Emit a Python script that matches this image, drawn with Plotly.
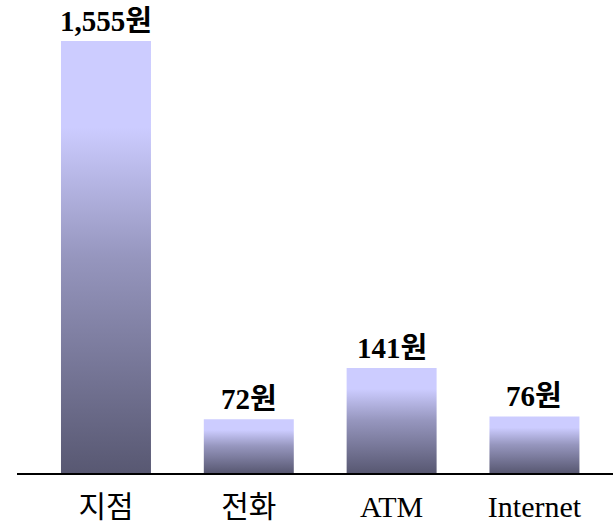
import plotly.graph_objects as go

categories = ["지점", "전화", "ATM", "Internet"]
values = [1555, 72, 141, 76]
unit = "원"

Y_MAX = 580          # axis cap: the 1,555 bar runs past the top of the plot
BAR_W = 0.63
LIGHT = "rgb(204,204,255)"
MID = "rgb(150,150,190)"
DARK = "rgb(88,88,114)"
FONT = "Liberation Serif, Times New Roman, Noto Sans CJK KR, serif"

fig = go.Figure()
for i, v in enumerate(values):
    top = min(v, Y_MAX)
    x0, x1 = i - BAR_W / 2, i + BAR_W / 2
    fig.add_trace(go.Scatter(
        x=[x0, x1, x1, x0, x0],
        y=[0, 0, v, v, 0],
        mode="lines",
        line=dict(width=0),
        fill="toself",
        fillgradient=dict(type="vertical", start=0, stop=top,
                          colorscale=[[0, DARK], [0.5, MID], [0.8, LIGHT], [1, LIGHT]]),
        hoverinfo="skip",
        showlegend=False,
    ))
    fig.add_annotation(
        x=i, y=top, xref="x", yref="y",
        text=f"<b>{v:,}{unit}</b>",
        showarrow=False, yanchor="bottom", yshift=2,
        font=dict(family=FONT, size=29, color="black"),
    )

fig.update_layout(
    width=613, height=526,
    margin=dict(l=17, r=0, t=41, b=53, autoexpand=False),
    paper_bgcolor="white", plot_bgcolor="white",
    showlegend=False,
)
fig.update_xaxes(
    range=[-0.623, 3.55],
    tickmode="array", tickvals=list(range(len(categories))), ticktext=categories,
    showline=True, linecolor="black", linewidth=2,
    showgrid=False, zeroline=False, ticks="",
    tickfont=dict(family=FONT, size=30, color="black"),
    ticklabelstandoff=6, automargin=False,
)
fig.update_yaxes(range=[0, Y_MAX], visible=False, showgrid=False, zeroline=False,
                 automargin=False)

fig.write_html("out.html")
